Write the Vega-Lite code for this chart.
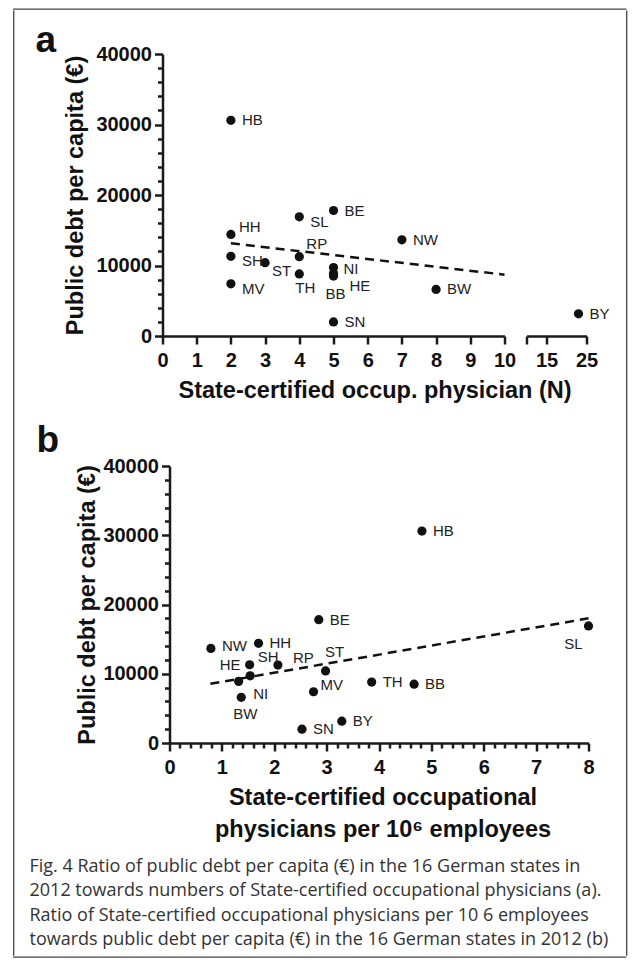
{
  "$schema": "https://vega.github.io/schema/vega-lite/v6.json",
  "padding": {"left": 12.5, "top": 8, "right": 0, "bottom": 0},
  "background": "white",
  "datasets": {
    "states": [
      {"state": "HB", "n": 2, "ratio": 4.82, "debt": 30600},
      {"state": "HH", "n": 2, "ratio": 1.70, "debt": 14400},
      {"state": "SH", "n": 2, "ratio": 1.53, "debt": 11300},
      {"state": "MV", "n": 2, "ratio": 2.75, "debt": 7400},
      {"state": "ST", "n": 3, "ratio": 2.98, "debt": 10400},
      {"state": "SL", "n": 4, "ratio": 8.0, "debt": 16900},
      {"state": "RP", "n": 4, "ratio": 2.07, "debt": 11250},
      {"state": "TH", "n": 4, "ratio": 3.86, "debt": 8800},
      {"state": "BE", "n": 5, "ratio": 2.85, "debt": 17800},
      {"state": "NI", "n": 5, "ratio": 1.54, "debt": 9700},
      {"state": "HE", "n": 5, "ratio": 1.32, "debt": 8900},
      {"state": "BB", "n": 5, "ratio": 4.67, "debt": 8500},
      {"state": "SN", "n": 5, "ratio": 2.53, "debt": 2000},
      {"state": "NW", "n": 7, "ratio": 0.79, "debt": 13650},
      {"state": "BW", "n": 8, "ratio": 1.37, "debt": 6600},
      {"state": "BY", "n": 23, "ratio": 3.29, "debt": 3150}
    ],
    "regA": [{"n": 2, "debt": 13150}, {"n": 10, "debt": 8700}],
    "regB": [{"ratio": 0.78, "debt": 8550}, {"ratio": 8.0, "debt": 18000}]
  },
  "config": {
    "view": {"stroke": null},
    "axis": {
      "domainColor": "#1a1a1a", "domainWidth": 2.5, "tickColor": "#1a1a1a", "tickWidth": 2.5,
      "labelFont": "Liberation Sans", "labelFontWeight": "bold", "labelFontSize": 20, "labelColor": "#111",
      "titleFont": "Liberation Sans", "titleFontWeight": "bold", "titleFontSize": 23.5, "titleColor": "#111",
      "grid": false, "labelOverlap": false, "labelFlush": false
    }
  },
  "spacing": 0,
  "align": "none",
  "vconcat": [
    {"data": {"values": []}, "mark": "point", "width": 612, "height": 0.01, "view": {"stroke": "#444", "strokeWidth": 1.3}},
    {
      "spacing": 15,
      "align": "none",
      "hconcat": [
        {"data": {"values": []}, "mark": "point", "width": 0.01, "height": 944, "view": {"stroke": "#444", "strokeWidth": 1.3}},
        {
          "title": {
            "text": [
              "Fig. 4 Ratio of public debt per capita (€) in the 16 German states in",
              "2012 towards numbers of State-certified occupational physicians (a).",
              "Ratio of State-certified occupational physicians per 10 6 employees",
              "towards public debt per capita (€) in the 16 German states in 2012 (b)"
            ],
            "orient": "bottom", "anchor": "start", "frame": "bounds",
            "font": "Open Sans", "fontSize": 18, "fontWeight": "normal", "color": "#333",
            "lineHeight": 24.5, "offset": 17, "dx": -6
          },
          "spacing": 10,
          "align": "none",
          "vconcat": [
            {"data": {"values": []}, "mark": "point", "width": 1, "height": 0.01},
            {
              "spacing": 20,
              "align": "none",
              "resolve": {"scale": {"x": "independent", "y": "independent"}},
              "vconcat": [
                {
                  "hconcat": [
                    {
                      "width": 342, "height": 282,
                      "title": {"text": "a", "anchor": "start", "frame": "group", "font": "Liberation Sans", "fontSize": 37, "fontWeight": "bold", "color": "#111", "dx": -127, "offset": -16},
                      "data": {"name": "states"},
                      "encoding": {
                        "x": {"field": "n", "type": "quantitative", "scale": {"domain": [0, 10], "nice": false, "zero": false}, "axis": null},
                        "y": {"field": "debt", "type": "quantitative", "scale": {"domain": [0, 40000], "nice": false}, "axis": null}
                      },
                      "resolve": {"axis": {"x": "independent", "y": "independent"}},
                      "layer": [
                        {"data": {"name": "regA"}, "mark": {"type": "line", "strokeDash": [9, 6], "strokeWidth": 2.5, "color": "#111"},
                          "encoding": {
                            "x": {"field": "n", "type": "quantitative", "scale": {"domain": [0, 10], "nice": false, "zero": false},
                              "axis": {"values": [0,1,2,3,4,5,6,7,8,9,10], "format": "d", "tickSize": 8, "labelPadding": 6,
                                "title": "State-certified occup. physician (N)", "titleX": 212, "titlePadding": 8}},
                            "y": {"field": "debt", "type": "quantitative", "scale": {"domain": [0, 40000], "nice": false},
                              "axis": {"values": [0,10000,20000,30000,40000], "format": "d", "tickSize": 8, "labelPadding": 3,
                                "title": "Public debt per capita (€)", "titlePadding": 8}}
                          }},
                        {"transform": [{"filter": "datum.n <= 10"}], "mark": {"type": "circle", "size": 85, "opacity": 1, "color": "#111"},
                          "encoding": {
                            "x": {"field": "n", "type": "quantitative", "scale": {"domain": [0, 10], "nice": false, "zero": false}, "axis": null},
                            "y": {"field": "debt", "type": "quantitative", "scale": {"domain": [0, 40000], "nice": false},
                              "axis": {"values": [2000,4000,6000,8000,12000,14000,16000,18000,22000,24000,26000,28000,32000,34000,36000,38000],
                                "labels": false, "domain": false, "tickSize": 5, "title": null, "orient": "left"}}
                          }},
                        {"transform": [{"filter": {"field": "state", "oneOf": ["HB", "BE", "SN", "NW", "BW"]}}],
                          "mark": {"type": "text", "align": "left", "baseline": "middle", "dx": 11, "dy": 0, "font": "Liberation Sans", "fontSize": 15, "fill": "#222"},
                          "encoding": {"text": {"field": "state"}}},
                        {"transform": [{"filter": {"field": "state", "oneOf": ["SL", "SH", "MV"]}}],
                          "mark": {"type": "text", "align": "left", "baseline": "middle", "dx": 11, "dy": 5, "font": "Liberation Sans", "fontSize": 15, "fill": "#222"},
                          "encoding": {"text": {"field": "state"}}},
                        {"transform": [{"filter": {"field": "state", "oneOf": ["NI"]}}],
                          "mark": {"type": "text", "align": "left", "baseline": "middle", "dx": 10, "dy": 1, "font": "Liberation Sans", "fontSize": 15, "fill": "#222"},
                          "encoding": {"text": {"field": "state"}}},
                        {"transform": [{"filter": {"field": "state", "oneOf": ["HH"]}}],
                          "mark": {"type": "text", "align": "left", "baseline": "middle", "dx": 8, "dy": -7, "font": "Liberation Sans", "fontSize": 15, "fill": "#222"},
                          "encoding": {"text": {"field": "state"}}},
                        {"transform": [{"filter": {"field": "state", "oneOf": ["RP"]}}],
                          "mark": {"type": "text", "align": "left", "baseline": "middle", "dx": 7, "dy": -13, "font": "Liberation Sans", "fontSize": 15, "fill": "#222"},
                          "encoding": {"text": {"field": "state"}}},
                        {"transform": [{"filter": {"field": "state", "oneOf": ["ST"]}}],
                          "mark": {"type": "text", "align": "left", "baseline": "middle", "dx": 7, "dy": 8, "font": "Liberation Sans", "fontSize": 15, "fill": "#222"},
                          "encoding": {"text": {"field": "state"}}},
                        {"transform": [{"filter": {"field": "state", "oneOf": ["TH"]}}],
                          "mark": {"type": "text", "align": "center", "baseline": "middle", "dx": 6, "dy": 14, "font": "Liberation Sans", "fontSize": 15, "fill": "#222"},
                          "encoding": {"text": {"field": "state"}}},
                        {"transform": [{"filter": {"field": "state", "oneOf": ["HE"]}}],
                          "mark": {"type": "text", "align": "left", "baseline": "middle", "dx": 16, "dy": 13, "font": "Liberation Sans", "fontSize": 15, "fill": "#222"},
                          "encoding": {"text": {"field": "state"}}},
                        {"transform": [{"filter": {"field": "state", "oneOf": ["BB"]}}],
                          "mark": {"type": "text", "align": "center", "baseline": "middle", "dx": 2, "dy": 18, "font": "Liberation Sans", "fontSize": 15, "fill": "#222"},
                          "encoding": {"text": {"field": "state"}}}
                      ]
                    },
                    {
                      "width": 60, "height": 282,
                      "data": {"name": "states"},
                      "transform": [{"filter": "datum.n > 10"}],
                      "encoding": {
                        "x": {"field": "n", "type": "quantitative", "scale": {"domain": [10, 25], "nice": false, "zero": false},
                          "axis": {"values": [10, 15, 25], "labelExpr": "datum.value == 10 ? '' : format(datum.value, 'd')", "tickSize": 8, "labelPadding": 6, "title": null}},
                        "y": {"field": "debt", "type": "quantitative", "scale": {"domain": [0, 40000], "nice": false}, "axis": null}
                      },
                      "layer": [
                        {"mark": {"type": "circle", "size": 85, "opacity": 1, "color": "#111"}},
                        {"mark": {"type": "text", "align": "left", "baseline": "middle", "dx": 11, "dy": 0, "font": "Liberation Sans", "fontSize": 15, "fill": "#222"},
                          "encoding": {"text": {"field": "state"}}}
                      ]
                    }
                  ],
                  "spacing": 22,
                  "bounds": "flush",
                  "resolve": {"scale": {"x": "independent", "y": "independent"}}
                },
                {
                  "width": 426, "height": 277,
                  "title": {"text": "b", "anchor": "start", "frame": "group", "font": "Liberation Sans", "fontSize": 37, "fontWeight": "bold", "color": "#111", "dx": -126, "offset": -4},
                  "data": {"name": "states"},
                  "encoding": {
                    "x": {"field": "ratio", "type": "quantitative", "scale": {"domain": [0, 8], "range": [7, 426], "nice": false, "zero": false}, "axis": null},
                    "y": {"field": "debt", "type": "quantitative", "scale": {"domain": [0, 40000], "nice": false}, "axis": null}
                  },
                  "resolve": {"axis": {"x": "independent", "y": "independent"}},
                  "layer": [
                    {"data": {"name": "regB"}, "mark": {"type": "line", "strokeDash": [9, 6], "strokeWidth": 2.5, "color": "#111"},
                      "encoding": {
                        "x": {"field": "ratio", "type": "quantitative", "scale": {"domain": [0, 8], "range": [7, 426], "nice": false, "zero": false},
                          "axis": {"values": [0,1,2,3,4,5,6,7,8], "format": "d", "tickSize": 8, "labelPadding": 6,
                            "title": ["State-certified occupational", "physicians per 10⁶ employees"], "titleLineHeight": 32, "titlePadding": 8, "titleX": 220}},
                        "y": {"field": "debt", "type": "quantitative", "scale": {"domain": [0, 40000], "nice": false},
                          "axis": {"values": [0,10000,20000,30000,40000], "format": "d", "tickSize": 8, "labelPadding": 3, "offset": -7,
                            "title": "Public debt per capita (€)", "titlePadding": 3}}
                      }},
                    {"mark": {"type": "circle", "size": 85, "opacity": 1, "color": "#111"},
                      "encoding": {
                        "x": {"field": "ratio", "type": "quantitative", "scale": {"domain": [0, 8], "range": [7, 426], "nice": false, "zero": false},
                          "axis": {"values": [0.2,0.4,0.6,0.8,1.2,1.4,1.6,1.8,2.2,2.4,2.6,2.8,3.2,3.4,3.6,3.8,4.2,4.4,4.6,4.8,5.2,5.4,5.6,5.8,6.2,6.4,6.6,6.8,7.2,7.4,7.6,7.8],
                            "labels": false, "domain": false, "tickSize": 5, "title": null, "orient": "bottom"}},
                        "y": {"field": "debt", "type": "quantitative", "scale": {"domain": [0, 40000], "nice": false},
                          "axis": {"values": [2000,4000,6000,8000,12000,14000,16000,18000,22000,24000,26000,28000,32000,34000,36000,38000],
                            "labels": false, "domain": false, "tickSize": 5, "title": null, "orient": "left", "offset": -7}}
                      }},
                    {"transform": [{"filter": {"field": "state", "oneOf": ["HH", "BE", "SN", "BY", "TH", "BB", "HB"]}}],
                      "mark": {"type": "text", "align": "left", "baseline": "middle", "dx": 11, "dy": 0, "font": "Liberation Sans", "fontSize": 15, "fill": "#222"},
                      "encoding": {"text": {"field": "state"}}},
                    {"transform": [{"filter": {"field": "state", "oneOf": ["NW"]}}],
                      "mark": {"type": "text", "align": "left", "baseline": "middle", "dx": 11, "dy": -2, "font": "Liberation Sans", "fontSize": 15, "fill": "#222"},
                      "encoding": {"text": {"field": "state"}}},
                    {"transform": [{"filter": {"field": "state", "oneOf": ["HE"]}}],
                      "mark": {"type": "text", "align": "right", "baseline": "middle", "dx": 2, "dy": -16, "font": "Liberation Sans", "fontSize": 15, "fill": "#222"},
                      "encoding": {"text": {"field": "state"}}},
                    {"transform": [{"filter": {"field": "state", "oneOf": ["NI"]}}],
                      "mark": {"type": "text", "align": "left", "baseline": "middle", "dx": 3, "dy": 18, "font": "Liberation Sans", "fontSize": 15, "fill": "#222"},
                      "encoding": {"text": {"field": "state"}}},
                    {"transform": [{"filter": {"field": "state", "oneOf": ["BW"]}}],
                      "mark": {"type": "text", "align": "center", "baseline": "middle", "dx": 4, "dy": 17, "font": "Liberation Sans", "fontSize": 15, "fill": "#222"},
                      "encoding": {"text": {"field": "state"}}},
                    {"transform": [{"filter": {"field": "state", "oneOf": ["SH"]}}],
                      "mark": {"type": "text", "align": "left", "baseline": "middle", "dx": 8, "dy": -8, "font": "Liberation Sans", "fontSize": 15, "fill": "#222"},
                      "encoding": {"text": {"field": "state"}}},
                    {"transform": [{"filter": {"field": "state", "oneOf": ["RP"]}}],
                      "mark": {"type": "text", "align": "left", "baseline": "middle", "dx": 15, "dy": -7, "font": "Liberation Sans", "fontSize": 15, "fill": "#222"},
                      "encoding": {"text": {"field": "state"}}},
                    {"transform": [{"filter": {"field": "state", "oneOf": ["ST"]}}],
                      "mark": {"type": "text", "align": "center", "baseline": "middle", "dx": 9, "dy": -19, "font": "Liberation Sans", "fontSize": 15, "fill": "#222"},
                      "encoding": {"text": {"field": "state"}}},
                    {"transform": [{"filter": {"field": "state", "oneOf": ["MV"]}}],
                      "mark": {"type": "text", "align": "left", "baseline": "middle", "dx": 7, "dy": -7, "font": "Liberation Sans", "fontSize": 15, "fill": "#222"},
                      "encoding": {"text": {"field": "state"}}},
                    {"transform": [{"filter": {"field": "state", "oneOf": ["SL"]}}],
                      "mark": {"type": "text", "align": "center", "baseline": "middle", "dx": -15, "dy": 18, "font": "Liberation Sans", "fontSize": 15, "fill": "#222"},
                      "encoding": {"text": {"field": "state"}}}
                  ]
                }
              ]
            }
          ]
        },
        {"data": {"values": []}, "mark": "point", "width": 0.01, "height": 944, "view": {"stroke": "#444", "strokeWidth": 1.3}}
      ]
    },
    {"data": {"values": []}, "mark": "point", "width": 612, "height": 0.01, "view": {"stroke": "#444", "strokeWidth": 1.3}}
  ]
}
